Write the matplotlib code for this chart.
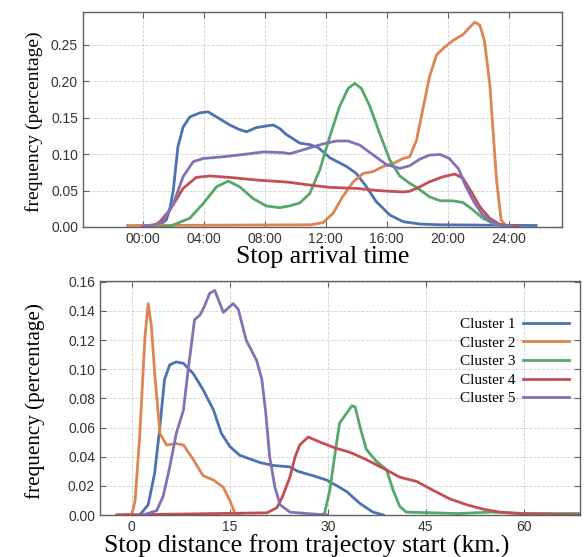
import matplotlib
matplotlib.use('Agg')
import matplotlib.pyplot as plt

colors = ['#4c72b0', '#dd8452', '#55a868', '#c44e52', '#8172b3']
labels = ['Cluster 1', 'Cluster 2', 'Cluster 3', 'Cluster 4', 'Cluster 5']

# stop arrival time (hours)
t_c1_x = [0, 0.8, 1.2, 1.55, 1.8, 2.0, 2.3, 2.64, 3.08, 3.74, 4.28, 4.83, 5.7, 6.3, 6.8, 7.46, 8.55,
          8.98, 9.4, 10.3, 10.95, 11.5, 12.26, 13.36, 14.0, 14.67, 15.3, 16.2, 17.07, 18.2, 19.5, 25.8]
t_c1_y = [0.001, 0.002, 0.004, 0.010, 0.028, 0.051, 0.110, 0.137, 0.151, 0.1566, 0.158, 0.151, 0.140,
          0.134, 0.1306, 0.1365, 0.140, 0.135, 0.127, 0.115, 0.113, 0.109, 0.095, 0.083, 0.0735, 0.055,
          0.035, 0.0164, 0.0073, 0.004, 0.003, 0.002]
t_c2_x = [-1.0, 11.0, 11.82, 12.48, 13.1, 13.8, 14.45, 15.1, 15.76, 16.4, 17.07, 17.5, 17.95, 18.4,
          18.8, 19.26, 19.7, 20.35, 21.0, 21.44, 21.77, 22.1, 22.4, 22.75, 22.97, 23.2, 23.5, 23.85, 24.2]
t_c2_y = [0.002, 0.003, 0.006, 0.0188, 0.0415, 0.062, 0.0735, 0.076, 0.083, 0.087, 0.094, 0.0963,
          0.119, 0.165, 0.206, 0.236, 0.245, 0.256, 0.264, 0.274, 0.281, 0.277, 0.256, 0.197, 0.133,
          0.064, 0.0096, 0.001, 0.001]
t_c3_x = [1.0, 1.77, 3.08, 3.95, 4.83, 5.6, 6.36, 7.23, 8.1, 8.98, 9.64, 10.3, 10.95, 11.6, 12.26,
          12.9, 13.46, 13.9, 14.34, 14.9, 15.54, 16.2, 16.85, 17.5, 17.9, 18.8, 19.5, 20.35, 21.0,
          21.66, 22.3, 22.97, 23.85, 24.6]
t_c3_y = [0.0, 0.001, 0.012, 0.032, 0.055, 0.063, 0.055, 0.039, 0.0288, 0.0265, 0.029, 0.033, 0.046,
          0.078, 0.124, 0.165, 0.190, 0.197, 0.190, 0.165, 0.128, 0.0918, 0.070, 0.060, 0.055, 0.0415,
          0.036, 0.0358, 0.0336, 0.0233, 0.012, 0.005, 0.001, 0.001]
t_c4_x = [0, 0.8, 1.1, 1.77, 2.64, 3.5, 4.4, 5.92, 7.46, 9.2, 9.64, 10.95, 12.26, 14.0, 15.54, 17.07,
          17.5, 18.16, 18.8, 19.7, 20.46, 21.0, 21.55, 22.1, 22.75, 23.4, 24.05, 24.6]
t_c4_y = [0.001, 0.003, 0.007, 0.023, 0.053, 0.068, 0.070, 0.0676, 0.0644, 0.062, 0.0612, 0.0575,
          0.0543, 0.053, 0.0498, 0.048, 0.049, 0.055, 0.062, 0.069, 0.0726, 0.0667, 0.048, 0.028,
          0.012, 0.0037, 0.001, 0.001]
t_c5_x = [0, 0.8, 1.3, 2.0, 2.64, 3.3, 3.95, 5.27, 6.6, 7.9, 9.2, 9.64, 10.7, 11.82, 12.7, 13.46,
          14.23, 15.1, 15.98, 16.85, 17.5, 18.16, 18.8, 19.5, 20.1, 20.7, 21.2, 21.77, 22.3, 22.97,
          23.6, 24.2]
t_c5_y = [0.001, 0.003, 0.007, 0.032, 0.069, 0.0895, 0.094, 0.0963, 0.0995, 0.103, 0.102, 0.1005,
          0.107, 0.114, 0.118, 0.118, 0.1123, 0.099, 0.0856, 0.0804, 0.084, 0.093, 0.0986, 0.0995,
          0.094, 0.080, 0.055, 0.0324, 0.0164, 0.006, 0.0014, 0.001]

hour_ticks = [0, 4, 8, 12, 16, 20, 24]
hour_labels = ['00:00', '04:00', '08:00', '12:00', '16:00', '20:00', '24:00']

# stop distance from start (km)
d_c1_x = [1.2, 2.5, 3.5, 4.3, 5.0, 5.8, 6.8, 7.9, 9.4, 10.9, 12.5, 13.7, 15.0, 16.5, 19.6, 21.6,
          24.2, 25.4, 27.7, 29.8, 31.8, 32.9, 34.9, 36.9, 38.5]
d_c1_y = [0, 0.007, 0.029, 0.061, 0.093, 0.103, 0.105, 0.104, 0.097, 0.086, 0.072, 0.056, 0.047,
          0.041, 0.036, 0.034, 0.033, 0.030, 0.027, 0.024, 0.019, 0.016, 0.008, 0.002, 0.0]
d_c2_x = [-2.3, 0, 0.5, 1.2, 2.0, 2.5, 3.0, 3.5, 4.3, 5.3, 6.8, 7.9, 9.4, 10.9, 12.5, 14.0, 15.0,
          15.8, 16.5]
d_c2_y = [0, 0.0005, 0.010, 0.054, 0.122, 0.145, 0.129, 0.097, 0.056, 0.048, 0.049, 0.048, 0.038,
          0.027, 0.024, 0.019, 0.010, 0.001, 0.0]
d_c3_x = [28.8, 29.5, 30.3, 31.1, 31.8, 32.9, 33.7, 34.2, 34.9, 35.9, 37.4, 39.0, 40.0, 41.0, 42.0,
          50, 55, 60, 68.6]
d_c3_y = [0, 0.001, 0.017, 0.042, 0.063, 0.070, 0.075, 0.074, 0.061, 0.045, 0.037, 0.031, 0.017,
          0.006, 0.002, 0.001, 0.002, 0.001, 0.001]
d_c4_x = [-2.3, 20.7, 22.2, 23.1, 24.2, 25.0, 25.7, 27.0, 28.8, 31.1, 33.4, 35.9, 38.5, 41.0, 43.6,
          46.1, 48.7, 51.3, 53.8, 56.3, 59.4, 68.6]
d_c4_y = [0, 0.0015, 0.005, 0.013, 0.026, 0.040, 0.048, 0.0535, 0.050, 0.046, 0.043, 0.038, 0.032,
          0.026, 0.023, 0.017, 0.011, 0.007, 0.004, 0.002, 0.001, 0.0]
d_c5_x = [1.7, 3.8, 4.8, 5.8, 6.8, 7.9, 8.6, 9.6, 10.4, 11.1, 11.9, 12.7, 14.0, 15.5, 16.3, 17.5,
          19.1, 19.9, 20.5, 21.1, 21.9, 22.7, 24.2, 26.8, 30]
d_c5_y = [0, 0.003, 0.013, 0.033, 0.056, 0.072, 0.099, 0.134, 0.137, 0.143, 0.152, 0.154, 0.139,
          0.145, 0.141, 0.120, 0.106, 0.093, 0.070, 0.040, 0.019, 0.007, 0.002, 0.001, 0.0]

km_ticks = [0, 15, 30, 45, 60]

serif = 'Liberation Serif'
sans = 'Liberation Sans'


def style_axes(ax):
    ax.grid(True, linestyle='--', color='#d0d0d0', linewidth=0.6)
    ax.set_axisbelow(True)
    for s in ax.spines.values():
        s.set_color('#606060')
        s.set_linewidth(1.0)
    ax.tick_params(direction='in', top=True, right=True, length=4, color='#606060',
                   labelsize=10, labelcolor='#333333')
    for lab in ax.get_xticklabels() + ax.get_yticklabels():
        lab.set_fontfamily(sans)


fig = plt.figure(figsize=(5.84, 5.57), dpi=100)

ax1 = fig.add_axes([0.142, 0.5925, 0.820, 0.386])
series_t = [(t_c1_x, t_c1_y), (t_c2_x, t_c2_y), (t_c3_x, t_c3_y), (t_c4_x, t_c4_y), (t_c5_x, t_c5_y)]
for (x, y), c in zip(series_t, colors):
    ax1.plot(x, y, color=c, linewidth=2, solid_joinstyle='round')
ax1.set_xlim(-3.93, 27.48)
ax1.set_ylim(0, 0.295)
ax1.set_xticks(hour_ticks)
ax1.set_xticklabels(hour_labels)
ax1.set_yticks([0, 0.05, 0.10, 0.15, 0.20, 0.25])
ax1.set_yticklabels(['0.00', '0.05', '0.10', '0.15', '0.20', '0.25'])
style_axes(ax1)
ax1.set_xlabel('Stop arrival time', fontfamily=serif, fontsize=18.5, labelpad=0)
ax1.set_ylabel('frequency (percentage)', fontfamily=serif, fontsize=14)
ax1.yaxis.set_label_coords(-0.0835, 0.49)

ax2 = fig.add_axes([0.171, 0.0754, 0.822, 0.4201])
series_d = [(d_c1_x, d_c1_y), (d_c2_x, d_c2_y), (d_c3_x, d_c3_y), (d_c4_x, d_c4_y), (d_c5_x, d_c5_y)]
for (x, y), c, lab in zip(series_d, colors, labels):
    ax2.plot(x, y, color=c, linewidth=2, label=lab, solid_joinstyle='round')
ax2.set_xlim(-4.9, 68.6)
ax2.set_ylim(0, 0.1605)
ax2.set_xticks(km_ticks)
ax2.set_yticks([0, 0.02, 0.04, 0.06, 0.08, 0.10, 0.12, 0.14, 0.16])
ax2.set_yticklabels(['0.00', '0.02', '0.04', '0.06', '0.08', '0.10', '0.12', '0.14', '0.16'])
style_axes(ax2)
ax2.set_xlabel('Stop distance from trajectoy start (km.)', fontfamily=serif, fontsize=18.5)
ax2.xaxis.set_label_coords(0.43, -0.085)
ax2.set_ylabel('frequency (percentage)', fontfamily=serif, fontsize=15.2)
ax2.yaxis.set_label_coords(-0.115, 0.487)
ax2.legend(loc='upper right', bbox_to_anchor=(1.0, 0.89), frameon=False, markerfirst=False,
           prop={'family': serif, 'size': 11}, handlelength=3.0, handletextpad=0.5,
           labelspacing=0.32, borderaxespad=0.3)

fig.savefig('out.png', dpi=100)
